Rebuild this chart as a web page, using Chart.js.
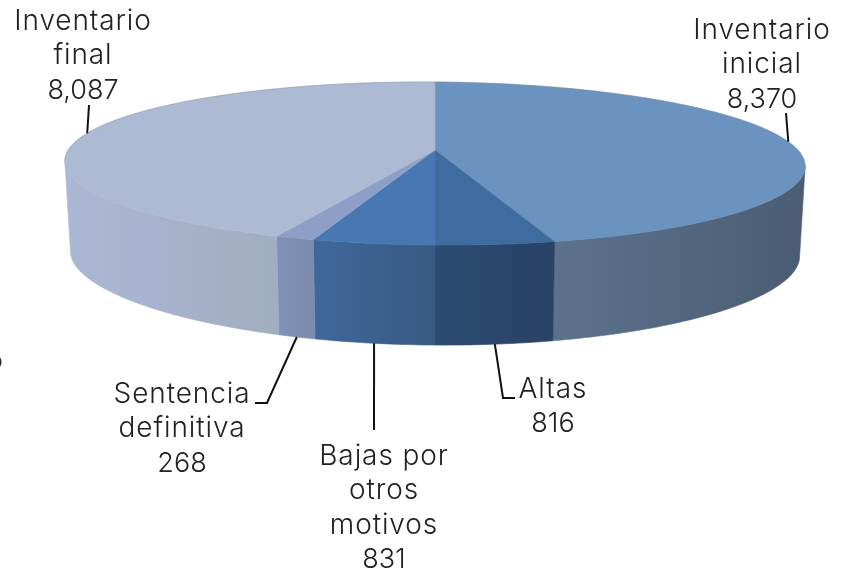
<!DOCTYPE html>
<html><head><meta charset="utf-8">
<style>html,body{margin:0;padding:0;background:#fff}#w{width:850px;height:572px}</style>
<script src="https://cdn.jsdelivr.net/npm/chart.js@4"></script>
</head><body><div id="w"><canvas id="c" width="850" height="572"></canvas></div>
<script>
const categories = ['Inventario inicial','Altas','Bajas por otros motivos','Sentencia definitiva','Inventario final'];
const values = [8370,816,831,268,8087];
const valueLabels = ['8,370','816','831','268','8,087'];
const labelLines = [['Inventario','inicial'],['Altas'],['Bajas por','otros','motivos'],['Sentencia','definitiva'],['Inventario','final']];
const topColors = ['#6B93BF','#3F6C9E','#4878B1','#8D9FC7','#ADBAD3'];
const wallLeft  = ['#5C728C','#2C4B72','#3F689B','#8091B5','#ABB8D3'];
const wallRight = ['#4B5C73','#2A4265','#385A82','#7C8CAE','#9FAEC0'];
const labelX = [762,553,384,182,83];
const labelBaseY = [39,398,465,403,30];
const leaderVia = [[[786,113]],[[503,398],[515,398]],[[374,430]],[[267,403],[255,403]],[[89,105]]];

const CX=435, CY=150, RX=365, A=79.3, K=0.166, SHEAR=0.007;
function proj(t){ // t: radians clockwise from 12 o'clock
  const X=Math.sin(t), Y=-Math.cos(t), d=1-K*Y;
  const x=RX*X/d;
  return {x:CX+x, y:CY+A*Y/d+SHEAR*x, Y};
}
function base(t){
  const p=proj(t);
  return {x:CX+(p.x-CX)*0.985, y:p.y+90+10*p.Y*p.Y};
}
const T=a=>a+Math.PI/2; // chart angle to clock angle
const visA=Math.acos(-K), visB=2*Math.PI-visA;

const pie3d={id:'pie3d',
  beforeDatasetsDraw(chart){
    const ctx=chart.ctx, arcs=chart.getDatasetMeta(0).data;
    // walls
    arcs.forEach((arc,i)=>{
      const s=Math.max(T(arc.startAngle),visA), e=Math.min(T(arc.endAngle),visB);
      if(e<=s) return;
      const n=Math.max(4,Math.ceil((e-s)*60)), top=[], bot=[];
      for(let j=0;j<=n;j++){const t=s+(e-s)*j/n; top.push(proj(t)); bot.push(base(t));}
      const g=ctx.createLinearGradient(top[n].x,0,top[0].x,0);
      g.addColorStop(0,wallLeft[i]);
      if(i===4){g.addColorStop(0.4,'#A9B2CE');}
      g.addColorStop(1,wallRight[i]);
      ctx.beginPath();
      top.forEach((p,j)=>j?ctx.lineTo(p.x,p.y):ctx.moveTo(p.x,p.y));
      bot.reverse().forEach(p=>ctx.lineTo(p.x,p.y));
      ctx.closePath(); ctx.fillStyle=g; ctx.fill();
      ctx.strokeStyle=g; ctx.lineWidth=0.6; ctx.stroke();
    });
    // top faces
    arcs.forEach((arc,i)=>{
      const s=T(arc.startAngle), e=T(arc.endAngle), n=Math.max(4,Math.ceil((e-s)*60));
      ctx.beginPath(); ctx.moveTo(CX,CY);
      for(let j=0;j<=n;j++){const p=proj(s+(e-s)*j/n); ctx.lineTo(p.x,p.y);}
      ctx.closePath();
      ctx.fillStyle=topColors[i]; ctx.fill();
      ctx.strokeStyle=topColors[i]; ctx.lineWidth=0.5; ctx.stroke();
    });
    // back rim
    ctx.beginPath();
    for(let j=0;j<=120;j++){const p=proj(visB+(2*Math.PI-visB+visA)*j/120); j?ctx.lineTo(p.x,p.y):ctx.moveTo(p.x,p.y);}
    ctx.strokeStyle='rgba(120,128,145,0.45)'; ctx.lineWidth=0.8; ctx.stroke();
    // leaders and labels
    ctx.textAlign='center'; ctx.textBaseline='alphabetic';
    arcs.forEach((arc,i)=>{
      const m=(T(arc.startAngle)+T(arc.endAngle))/2;
      const a=(m>visA&&m<visB)?base(m):proj(m);
      ctx.beginPath(); ctx.moveTo(a.x,a.y);
      leaderVia[i].forEach(p=>ctx.lineTo(p[0],p[1]));
      ctx.strokeStyle='#111'; ctx.lineWidth=2; ctx.stroke();
      ctx.fillStyle='#222';
      labelLines[i].forEach((l,j)=>{
        ctx.font='300 28px Inter'; ctx.letterSpacing='0.9px';
        ctx.fillText(l,labelX[i],labelBaseY[i]+j*34.4);
      });
      ctx.font='300 27px Inter'; ctx.letterSpacing='0px';
      ctx.fillText(valueLabels[i],labelX[i],labelBaseY[i]+labelLines[i].length*34.4);
    });
    // clipped letter at the left edge of the source picture
    ctx.font='600 27px Lato'; ctx.textAlign='left';
    ctx.fillStyle='#222';
    ctx.fillText('o',-13,369);
    return false;
  }
};
new Chart(document.getElementById('c'),{
  type:'pie',
  data:{labels:categories,datasets:[{data:values,backgroundColor:topColors,borderWidth:0}]},
  options:{responsive:false,animation:false,
    plugins:{legend:{display:false},tooltip:{enabled:false}}},
  plugins:[pie3d]
});
</script></body></html>
